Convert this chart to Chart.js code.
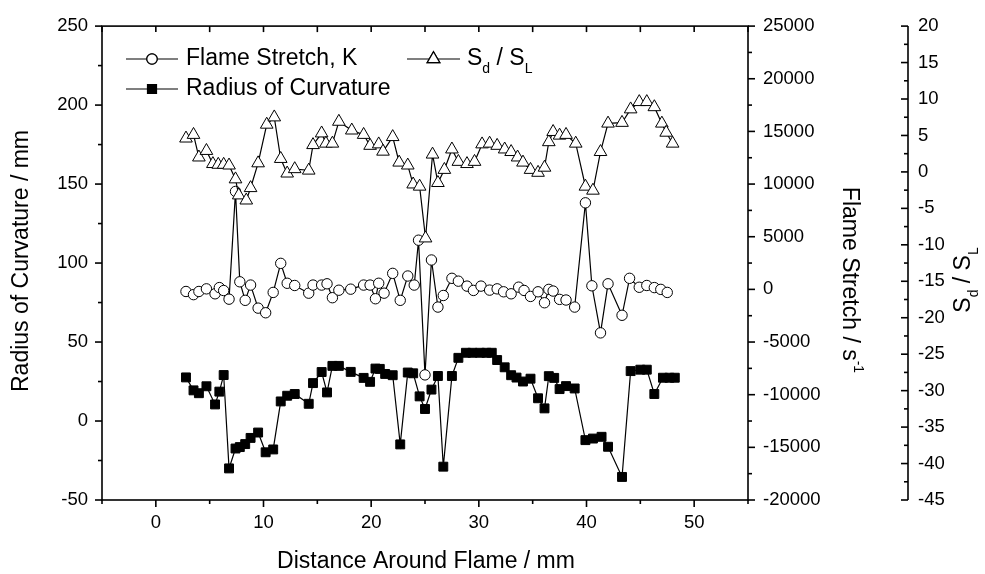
<!DOCTYPE html>
<html>
<head>
<meta charset="utf-8">
<script src="https://cdn.jsdelivr.net/npm/chart.js@4/dist/chart.umd.min.js"></script>
<style>
  body { margin: 0; background: #fff; }
  #wrap { width: 985px; height: 574px; }
</style>
</head>
<body>
<div id="wrap"><canvas id="chart" width="985" height="574"></canvas></div>
<script>
// Radius of curvature (left axis, mm)
const radX = [2.8, 3.5, 4.0, 4.7, 5.5, 5.9, 6.3, 6.8, 7.4, 7.8, 8.3, 8.8, 9.5, 10.2, 10.9, 11.6, 12.2, 12.9,
  14.2, 14.6, 15.4, 15.9, 16.4, 17.0, 18.1, 19.3, 19.9, 20.4, 20.8, 21.3, 22.0, 22.7, 23.4, 23.9, 24.5, 25.0,
  25.6, 26.2, 26.7, 27.5, 28.1, 28.8, 29.4, 30.1, 30.7, 31.2, 31.7, 32.4, 33.0, 33.5, 34.1, 34.8, 35.5, 36.1,
  36.5, 37.0, 37.5, 38.1, 38.9, 39.9, 40.6, 41.4, 42.0, 43.3, 44.1, 45.0, 45.6, 46.3, 47.1, 47.7, 48.2];
const radius = [27.6, 19.4, 17.6, 22, 10.5, 18.6, 29.1, -30, -17.4, -16.5, -14.6, -10.7, -7.3, -19.8, -18, 12.4, 16, 17.1,
  10.9, 24, 31, 18.1, 34.9, 34.9, 31.1, 27.3, 24.8, 33.2, 33, 29.8, 29, -14.8, 30.7, 30.2, 15.6, 7.6,
  19.9, 28.5, -28.9, 28.5, 40, 43.2, 43.2, 43.2, 43.2, 43.2, 38.6, 34, 29, 27.5, 25, 26.8, 14.4, 8,
  28.4, 27.3, 20.2, 22.1, 20.6, -12.1, -11.1, -10, -16.3, -35.4, 31.6, 32.5, 32.5, 17.1, 27.4, 27.4, 27.4];

// Flame stretch K (first right axis, 1/s)
const kX = [2.8, 3.5, 4.0, 4.7, 5.5, 5.9, 6.3, 6.8, 7.4, 7.8, 8.3, 8.8, 9.5, 10.2, 10.9, 11.6, 12.2, 12.9,
  14.2, 14.6, 15.4, 15.9, 16.4, 17.0, 18.1, 19.3, 19.9, 20.4, 20.7, 21.2, 22.0, 22.7, 23.4, 24.0, 24.4, 25.0,
  25.6, 26.2, 26.7, 27.5, 28.1, 28.9, 29.5, 30.2, 31.0, 31.7, 32.3, 33.0, 33.7, 34.2, 34.8, 35.5, 36.1,
  36.5, 36.9, 37.5, 38.1, 38.9, 39.9, 40.5, 41.3, 42.0, 43.3, 44.0, 44.9, 45.6, 46.3, 46.9, 47.5];
const stretch = [-200, -500, -200, 50, -420, 170, -110, -930, 9300, 720, -1040, 410, -1780, -2220, -290, 2470, 580, 370,
  -360, 410, 410, 530, -790, -80, 20, 410, 410, -890, 580, -360, 1520, -1040, 1270, 410, 4670, -8120,
  2790, -1680, -580, 1050, 780, 310, -100, 310, -70, 50, -230, -420, 210, -100, -670, -230, -1270,
  0, -160, -950, -1010, -1680, 8220, 340, -4130, 530, -2460, 1050, 200, 370, 170, 0, -290];

// Sd / SL (second right axis)
const sdX = [2.8, 3.5, 4.0, 4.7, 5.3, 5.8, 6.3, 6.8, 7.4, 7.7, 8.4, 8.8, 9.5, 10.3, 11.0, 11.6, 12.2, 12.9,
  14.2, 14.6, 15.4, 15.8, 16.4, 17.0, 18.2, 19.3, 19.9, 20.7, 21.1, 22.0, 22.6, 23.4, 23.9, 24.5, 25.05,
  25.7, 26.2, 26.8, 27.5, 28.1, 28.9, 29.6, 30.3, 31.0, 31.7, 32.4, 33.0, 33.6, 34.1, 34.8, 35.5, 36.1,
  36.5, 36.9, 37.5, 38.1, 39.0, 39.9, 40.6, 41.3, 42.0, 43.3, 44.1, 44.9, 45.6, 46.3, 47.0, 47.4, 48.0];
const sdsl = [4.6, 5.1, 2.0, 2.9, 1.1, 1.0, 1.0, 0.9, -1.0, -3.2, -3.9, -2.2, 1.2, 6.5, 7.5, 1.8, -0.2, 0.4,
  0.2, 3.7, 5.3, 3.9, 3.9, 6.9, 5.7, 5.1, 3.6, 3.8, 2.8, 4.8, 1.3, 0.9, -1.7, -2.0, -9.1,
  2.4, -1.5, 0.3, 3.1, 1.4, 1.1, 1.4, 3.8, 3.9, 3.6, 3.1, 2.75, 2.0, 1.3, 0.3, -0.1, 0.6,
  4.1, 5.5, 5.0, 5.1, 3.9, -2.0, -2.55, 2.75, 6.65, 6.75, 8.6, 9.6, 9.6, 8.9, 6.65, 5.4, 3.9];

const xLabels = [0, 10, 20, 30, 40, 50];

const FONT = '"Liberation Sans", Arial, sans-serif';
const tickFont = { family: FONT, size: 18.5 };
const TITLE = 23;

function pts(xs, ys) {
  return xs.map((x, i) => ({ x: x, y: ys[i] }));
}

// 0 = normal, 1 = subíndice, 2 = superíndice
function partsWidth(ctx, parts, size) {
  let w = 0;
  parts.forEach(([t, k]) => {
    ctx.font = (k ? Math.round(size * 0.62) : size) + 'px ' + FONT;
    w += ctx.measureText(t).width;
  });
  return w;
}
function drawParts(ctx, parts, x, y, size) {
  ctx.textAlign = 'left';
  ctx.textBaseline = 'middle';
  parts.forEach(([t, k]) => {
    ctx.font = (k ? Math.round(size * 0.62) : size) + 'px ' + FONT;
    const dy = k === 1 ? size * 0.42 : (k === 2 ? -size * 0.38 : 0);
    ctx.fillText(t, x, y + dy);
    x += ctx.measureText(t).width;
  });
}

// Caja, ticks de los ejes, leyenda y títulos
const framePlugin = {
  id: 'frame',
  afterDraw(chart) {
    const ctx = chart.ctx;
    const a = chart.chartArea;
    const sx = chart.scales.x, sy = chart.scales.y, sk = chart.scales.yK, ss = chart.scales.yS;
    ctx.save();
    ctx.strokeStyle = '#000';
    ctx.fillStyle = '#000';
    ctx.lineWidth = 1.6;
    ctx.strokeRect(a.left, a.top, a.right - a.left, a.bottom - a.top);

    const line = (x1, y1, x2, y2) => {
      ctx.beginPath(); ctx.moveTo(x1, y1); ctx.lineTo(x2, y2); ctx.stroke();
    };

    for (let v = -5; v <= 55; v += 5) {
      const px = sx.getPixelForValue(v);
      const len = v % 10 === 0 ? 7 : 4;
      line(px, a.bottom, px, a.bottom + len);
      line(px, a.top, px, a.top + 6);
    }
    for (let v = -50; v <= 250; v += 25) {
      const py = sy.getPixelForValue(v);
      const len = v % 50 === 0 ? 7 : 4;
      line(a.left - len, py, a.left, py);
    }
    for (let v = -20000; v <= 25000; v += 2500) {
      const py = sk.getPixelForValue(v);
      const len = v % 5000 === 0 ? 7 : 4;
      line(a.right, py, a.right + len, py);
    }
    const axS = ss.left;
    line(axS, a.top, axS, a.bottom);
    for (let v = -45; v <= 20; v += 2.5) {
      const py = ss.getPixelForValue(v);
      const len = v % 5 === 0 ? 7 : 4;
      line(axS - len, py, axS, py);
    }

    // leyenda
    ctx.lineWidth = 1.2;
    const mark = (style, cx, cy) => {
      Chart.helpers.drawPoint(ctx, {
        pointStyle: style,
        radius: style === 'circle' ? 5.2 : (style === 'rect' ? 6.3 : 7.3),
        borderWidth: 1
      }, cx, cy);
      ctx.fill();
      ctx.stroke();
    };
    const legItem = (x1, x2, cy, style, filled) => {
      ctx.strokeStyle = '#000';
      line(x1, cy, x2, cy);
      ctx.fillStyle = filled ? '#000' : '#fff';
      mark(style, (x1 + x2) / 2, cy);
      ctx.fillStyle = '#000';
    };
    legItem(126, 178, 59, 'circle', false);
    drawParts(ctx, [['Flame Stretch, K', 0]], 186, 59, TITLE);
    legItem(126, 178, 89, 'rect', true);
    drawParts(ctx, [['Radius of Curvature', 0]], 186, 89, TITLE);
    legItem(407, 460, 59, 'triangle', false);
    drawParts(ctx, [['S', 0], ['d', 1], [' / S', 0], ['L', 1]], 467, 59, TITLE);

    // títulos de los ejes
    ctx.font = TITLE + 'px ' + FONT;
    ctx.textAlign = 'center';
    ctx.textBaseline = 'middle';
    ctx.fillText('Distance Around Flame / mm', 426, 562);
    ctx.save();
    ctx.translate(22, 261);
    ctx.rotate(-Math.PI / 2);
    ctx.fillText('Radius of Curvature / mm', 0, 0);
    ctx.restore();

    ctx.save();
    ctx.translate(849, 280);
    ctx.rotate(Math.PI / 2);
    const parts = [['Flame Stretch / s', 0], ['-1', 2]];
    const w = partsWidth(ctx, parts, TITLE);
    drawParts(ctx, parts, -w / 2, 0, TITLE);
    ctx.restore();

    ctx.save();
    ctx.translate(964, 280);
    ctx.rotate(-Math.PI / 2);
    const sParts = [['S', 0], ['d', 1], [' / S', 0], ['L', 1]];
    const w2 = partsWidth(ctx, sParts, TITLE);
    drawParts(ctx, sParts, -w2 / 2, 0, TITLE);
    ctx.restore();

    ctx.restore();
  }
};

const ctx = document.getElementById('chart').getContext('2d');
new Chart(ctx, {
  type: 'scatter',
  data: {
    datasets: [
      {
        label: 'Sd / SL', data: pts(sdX, sdsl), yAxisID: 'yS', order: 1,
        showLine: true, borderColor: '#000', borderWidth: 1.2,
        pointStyle: 'triangle', pointRadius: 7.3, pointBorderWidth: 1,
        pointBackgroundColor: '#fff', pointBorderColor: '#000'
      },
      {
        label: 'Flame Stretch, K', data: pts(kX, stretch), yAxisID: 'yK', order: 2,
        showLine: true, borderColor: '#000', borderWidth: 1.2,
        pointStyle: 'circle', pointRadius: 5.2, pointBorderWidth: 1,
        pointBackgroundColor: '#fff', pointBorderColor: '#000'
      },
      {
        label: 'Radius of Curvature', data: pts(radX, radius), yAxisID: 'y', order: 3,
        showLine: true, borderColor: '#000', borderWidth: 1.2,
        pointStyle: 'rect', pointRadius: 6.3, pointBorderWidth: 1,
        pointBackgroundColor: '#000', pointBorderColor: '#000'
      }
    ]
  },
  options: {
    responsive: false,
    animation: false,
    layout: { padding: { top: 23 } },
    plugins: { legend: { display: false }, tooltip: { enabled: false } },
    scales: {
      x: {
        type: 'linear', position: 'bottom', min: -5, max: 55,
        afterBuildTicks: (s) => { s.ticks = xLabels.map((v) => ({ value: v })); },
        afterFit: (s) => { s.height = 74; },
        grid: { display: false, drawTicks: false }, border: { display: false },
        ticks: { color: '#000', font: tickFont, padding: 12, maxRotation: 0 }
      },
      y: {
        position: 'left', min: -50, max: 250,
        afterFit: (s) => { s.width = 102; },
        grid: { display: false, drawTicks: false }, border: { display: false },
        ticks: { color: '#000', font: tickFont, padding: 14, stepSize: 50 }
      },
      yK: {
        position: 'right', min: -20000, max: 25000,
        afterFit: (s) => { s.width = 160; },
        grid: { display: false, drawTicks: false }, border: { display: false },
        ticks: { color: '#000', font: tickFont, padding: 15, stepSize: 5000, callback: (v) => String(v) }
      },
      yS: {
        position: 'right', min: -45, max: 20,
        afterFit: (s) => { s.width = 77; },
        grid: { display: false, drawTicks: false }, border: { display: false },
        ticks: { color: '#000', font: tickFont, padding: 10, stepSize: 5 }
      }
    }
  },
  plugins: [framePlugin]
});
</script>
</body>
</html>
